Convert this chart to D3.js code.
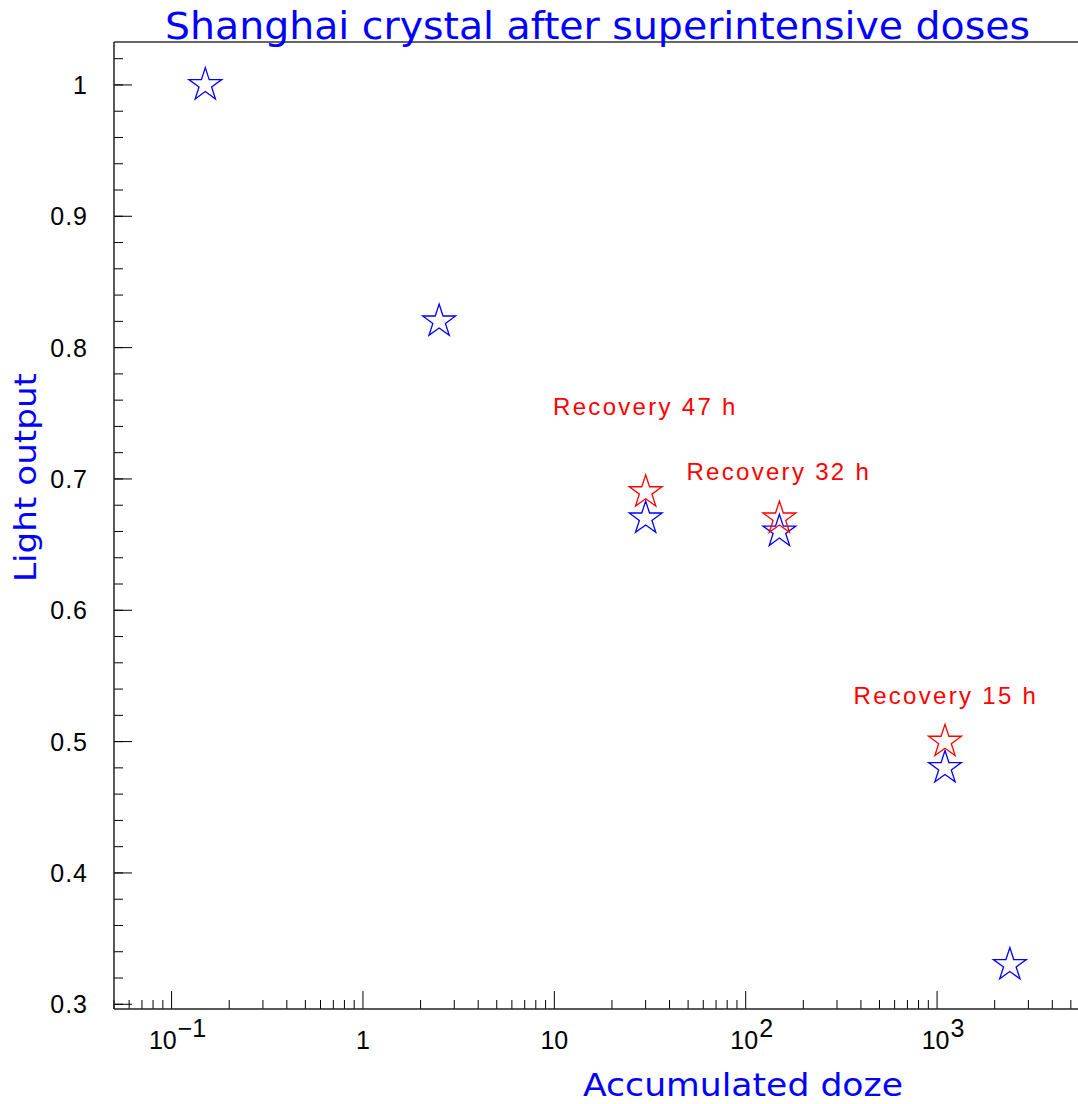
<!DOCTYPE html>
<html>
<head>
<meta charset="utf-8">
<script src="https://cdn.jsdelivr.net/npm/d3@7"></script>
<style>
  html, body { margin: 0; padding: 0; background: #fff; }
  svg { display: block; }
</style>
</head>
<body>
<script>
// blue: light output after each accumulated doze
const dozeBefore = [0.15, 2.5, 30, 150, 1100, 2400];
const lightBefore = [1.0, 0.82, 0.67, 0.66, 0.48, 0.33];

// red: after recovery
const dozeRecovered = [30, 150, 1100];
const lightRecovered = [0.69, 0.67, 0.50];

const recoveryLabels = ["Recovery 47 h", "Recovery 32 h", "Recovery 15 h"];
const labelDoze = [9.85, 49, 366];
const labelLight = [0.749, 0.699, 0.529];

const xTickValues = [0.1, 1, 10, 100, 1000];
const xTickLabels = [["10", "\u22121"], ["1"], ["10"], ["10", "2"], ["10", "3"]];
const yTickValues = [0.3, 0.4, 0.5, 0.6, 0.7, 0.8, 0.9, 1.0];
const yTickLabels = ["0.3", "0.4", "0.5", "0.6", "0.7", "0.8", "0.9", "1"];

const titleText = "Shanghai crystal after superintensive doses";
const xTitle = "Accumulated doze";
const yTitle = "Light output";

const drawViz = () => {
	const width = 1078;
	const height = 1104;
	const frame = {left: 114, right: 1078, top: 42, bottom: 1009};

	d3.select('body').selectAll('svg').remove();

	const svg = d3.select('body')
	  .append('svg')
	  .attr('width', width)
	  .attr('height', height);

	const x = d3.scaleLog()
		.domain([0.05, 5450])
		.range([frame.left, frame.right]);

	const y = d3.scaleLinear()
		.domain([0.2964, 1.0327])
		.range([frame.bottom, frame.top]);

	const tickFont = "'Liberation Sans', Arial, sans-serif";
	const titleFont = "'DejaVu Sans', sans-serif";

	// x minor + major ticks (pointing up, inside)
	const xMinor = [];
	for (let e = -2; e <= 3; e++) {
		for (let m = 2; m <= 9; m++) {
			const v = m * Math.pow(10, e);
			if (v >= 0.05 && v <= 5450) xMinor.push(v);
		}
	}
	svg.append('g').selectAll('line')
		.data(xMinor)
		.enter().append('line')
		.attr('x1', d => x(d)).attr('x2', d => x(d))
		.attr('y1', frame.bottom).attr('y2', frame.bottom - 9)
		.attr('stroke', '#000').attr('stroke-width', 1);

	svg.append('g').selectAll('line')
		.data(xTickValues)
		.enter().append('line')
		.attr('x1', d => x(d)).attr('x2', d => x(d))
		.attr('y1', frame.bottom).attr('y2', frame.bottom - 18)
		.attr('stroke', '#000').attr('stroke-width', 1);

	// y minor + major ticks (pointing right)
	const yMinor = d3.range(15, 52).map(i => i * 0.02).filter(v => v >= 0.2964 && v <= 1.0327);
	svg.append('g').selectAll('line')
		.data(yMinor)
		.enter().append('line')
		.attr('x1', frame.left).attr('x2', frame.left + 9)
		.attr('y1', d => y(d)).attr('y2', d => y(d))
		.attr('stroke', '#000').attr('stroke-width', 1);

	svg.append('g').selectAll('line')
		.data(yTickValues)
		.enter().append('line')
		.attr('x1', frame.left).attr('x2', frame.left + 18)
		.attr('y1', d => y(d)).attr('y2', d => y(d))
		.attr('stroke', '#000').attr('stroke-width', 1);

	// frame lines
	svg.append('line')
		.attr('x1', frame.left).attr('x2', frame.right)
		.attr('y1', frame.top).attr('y2', frame.top)
		.attr('stroke', '#666').attr('stroke-width', 2);
	svg.append('line')
		.attr('x1', frame.left).attr('x2', frame.left)
		.attr('y1', frame.top).attr('y2', frame.bottom)
		.attr('stroke', '#222').attr('stroke-width', 1.5);
	svg.append('line')
		.attr('x1', frame.left).attr('x2', frame.right)
		.attr('y1', frame.bottom).attr('y2', frame.bottom)
		.attr('stroke', '#222').attr('stroke-width', 1.5);

	// x tick labels
	const xl = svg.append('g').selectAll('text')
		.data(xTickValues)
		.enter().append('text')
		.attr('x', (d, i) => x(d) + (xTickLabels[i].length > 1 ? 6 : 0))
		.attr('y', 1049)
		.attr('text-anchor', 'middle')
		.style('font-family', tickFont)
		.style('font-size', '25px')
		.attr('fill', '#000');
	xl.append('tspan').text((d, i) => xTickLabels[i][0]);
	xl.filter((d, i) => xTickLabels[i].length > 1)
		.append('tspan')
		.attr('dx', 1)
		.attr('dy', -12)
		.text((d, i) => xTickLabels[xTickValues.indexOf(d)][1]);

	// y tick labels
	svg.append('g').selectAll('text')
		.data(yTickValues)
		.enter().append('text')
		.attr('x', 88)
		.attr('y', d => y(d))
		.attr('dy', '0.36em')
		.attr('text-anchor', 'end')
		.style('font-family', tickFont)
		.style('font-size', '25px')
		.style('letter-spacing', '1px')
		.attr('fill', '#000')
		.text((d, i) => yTickLabels[i]);

	// title and axis titles
	svg.append('text')
		.attr('x', 165).attr('y', 38.5)
		.attr('textLength', 865)
		.attr('lengthAdjust', 'spacingAndGlyphs')
		.style('font-family', titleFont)
		.style('font-size', '37px')
		.attr('fill', '#0000ff')
		.text(titleText);

	svg.append('text')
		.attr('x', 583).attr('y', 1096)
		.attr('textLength', 320)
		.attr('lengthAdjust', 'spacingAndGlyphs')
		.style('font-family', titleFont)
		.style('font-size', '32px')
		.attr('fill', '#0000ff')
		.text(xTitle);

	svg.append('text')
		.attr('transform', 'translate(36,582) rotate(-90)')
		.attr('textLength', 209)
		.attr('lengthAdjust', 'spacingAndGlyphs')
		.style('font-family', titleFont)
		.style('font-size', '31px')
		.attr('fill', '#0000ff')
		.text(yTitle);

	// open star markers
	const star = d3.symbol().type(d3.symbolStar).size(17.3 * 17.3 / 0.89081309152928522810);

	svg.append('g').selectAll('path')
		.data(dozeBefore)
		.enter().append('path')
		.attr('transform', (d, i) => `translate(${x(d)},${y(lightBefore[i])})`)
		.attr('d', star)
		.attr('fill', 'none')
		.attr('stroke', '#0000ff')
		.attr('stroke-width', 1.3);

	svg.append('g').selectAll('path')
		.data(dozeRecovered)
		.enter().append('path')
		.attr('transform', (d, i) => `translate(${x(d)},${y(lightRecovered[i])})`)
		.attr('d', star)
		.attr('fill', 'none')
		.attr('stroke', '#ff0000')
		.attr('stroke-width', 1.3);

	// recovery labels
	svg.append('g').selectAll('text')
		.data(recoveryLabels)
		.enter().append('text')
		.attr('x', (d, i) => x(labelDoze[i]))
		.attr('y', (d, i) => y(labelLight[i]))
		.style('font-family', tickFont)
		.style('font-size', '24px')
		.style('letter-spacing', '2.3px')
		.attr('fill', '#ff0000')
		.text(d => d);
}

drawViz();
</script>
</body>
</html>
